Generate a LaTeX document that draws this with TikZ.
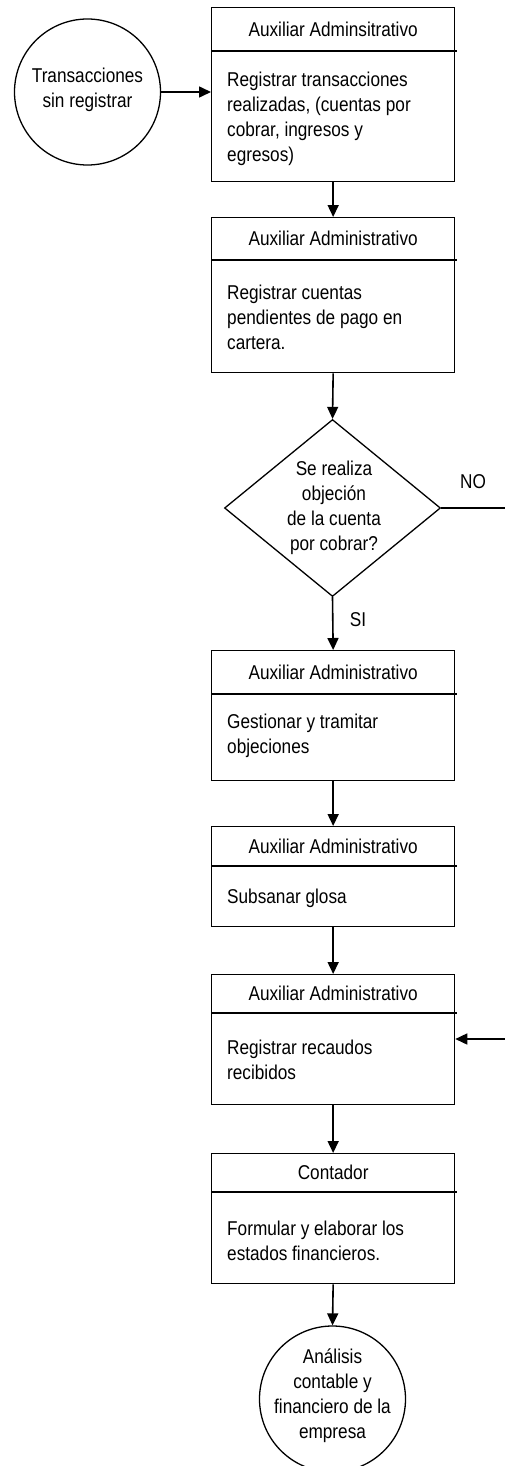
\documentclass[tikz,border=0pt]{standalone}
\usepackage{fontspec}
\setmainfont{Liberation Sans}[FakeStretch=0.86]
\usetikzlibrary{shapes.geometric,arrows.meta}

\begin{document}
\begin{tikzpicture}[x=1pt,y=-1pt,
  every node/.style={font=\fontsize{20}{25}\selectfont},
  boxpart/.style={draw, line width=1.3pt, minimum width=243pt, minimum height=#1,
                  inner sep=0pt, anchor=north west},
  bodytext/.style={anchor=west, align=left, inner sep=0pt},
  divider/.style={line width=2pt},
  flow/.style={line width=1.6pt, -{Triangle[length=12pt,width=11pt]}},
  plain/.style={line width=1.6pt},
  terminal/.style={draw, circle, line width=1.3pt, minimum size=146pt, inner sep=0pt},
  lbl/.style={inner sep=0pt}
]
\useasboundingbox (0,0) rectangle (504,1466);

% start event
\node[terminal] (start) at (87.5,92) {};
\node[lbl, align=center] (startTxt) at (87.5,90) {Transacciones\\sin registrar};

% step 1
\node[boxpart=43pt] (h1) at (211,7) {Auxiliar Adminsitrativo};
\node[boxpart=131pt] (b1) at (211,50) {};
\draw[divider] (h1.south west) -- ([xshift=2pt]h1.south east);
\node[bodytext] (t1) at (227,119) {Registrar transacciones\\realizadas, (cuentas por\\cobrar, ingresos y\\egresos)};

% step 2
\node[boxpart=42pt] (h2) at (211,217) {Auxiliar Administrativo};
\node[boxpart=113pt] (b2) at (211,259) {};
\draw[divider] (h2.south west) -- ([xshift=2pt]h2.south east);
\node[bodytext] (t2) at (227,317) {Registrar cuentas\\pendientes de pago en\\cartera.};

% decision
\node[draw, diamond, line width=1.3pt, minimum width=216pt, minimum height=177pt,
      inner sep=0pt] (d) at (332.5,508) {};
\node[lbl, align=center] (dTxt) at (334,508) {Se realiza\\objeción\\de la cuenta\\por cobrar?};

% step 3
\node[boxpart=43pt] (h3) at (211,650) {Auxiliar Administrativo};
\node[boxpart=87pt] (b3) at (211,693) {};
\draw[divider] (h3.south west) -- ([xshift=2pt]h3.south east);
\node[bodytext] (t3) at (227,736) {Gestionar y tramitar\\objeciones};

% step 4
\node[boxpart=39pt] (h4) at (211,826) {Auxiliar Administrativo};
\node[boxpart=61pt] (b4) at (211,865) {};
\draw[divider] (h4.south west) -- ([xshift=2pt]h4.south east);
\node[bodytext] (t4) at (227,898) {Subsanar glosa};

% step 5
\node[boxpart=38pt] (h5) at (211,974) {Auxiliar Administrativo};
\node[boxpart=92pt] (b5) at (211,1012) {};
\draw[divider] (h5.south west) -- ([xshift=2pt]h5.south east);
\node[bodytext] (t5) at (227,1060) {Registrar recaudos\\recibidos};

% step 6
\node[boxpart=38pt] (h6) at (211,1153) {Contador};
\node[boxpart=92pt] (b6) at (211,1191) {};
\draw[divider] (h6.south west) -- ([xshift=2pt]h6.south east);
\node[bodytext] (t6) at (227,1241) {Formular y elaborar los\\estados financieros.};

% end event
\node[terminal] (fin) at (332.5,1399) {};
\node[lbl, align=center] (finTxt) at (332.5,1396) {Análisis\\contable y\\financiero de la\\empresa};

% connectors
\draw[flow] (start.east) -- (start.east -| b1.west);
\draw[flow] (b1.south) -- (h2.north);
\draw[flow] (b2.south) -- (d.north);
\draw[flow] (d.south) -- (h3.north);
\node[lbl] (si) at (358,620) {SI};
\draw[flow] (b3.south) -- (h4.north);
\draw[flow] (b4.south) -- (h5.north);
\draw[flow] (b5.south) -- (h6.north);
\draw[flow] (b6.south) -- (fin.north);

% the NO branch leaves the frame and comes back into step 5
\coordinate (noOut) at (506,508);
\coordinate (noIn) at (506,1039);
\draw[plain] (d.east) -- (noOut);
\node[lbl] (no) at (473,482) {NO};
\draw[flow] (noIn) -- (noIn -| b5.east);
\end{tikzpicture}
\end{document}
